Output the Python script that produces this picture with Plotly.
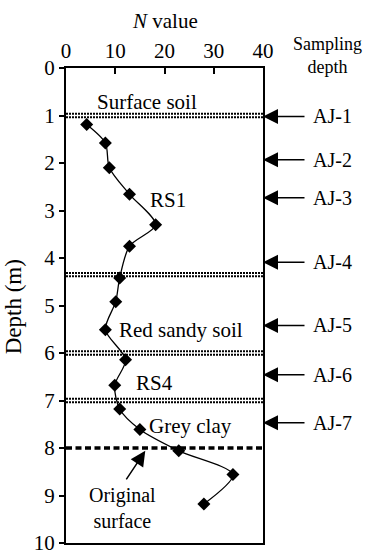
import plotly.graph_objects as go

# Data
n_value = [4.2, 8.0, 8.8, 12.9, 18.2, 12.9, 10.9, 10.1, 8.0, 12.1, 9.9, 10.9, 15.0, 22.9, 33.9, 28.0]
depth = [1.19, 1.58, 2.10, 2.66, 3.30, 3.75, 4.42, 4.92, 5.51, 6.14, 6.68, 7.18, 7.61, 8.06, 8.56, 9.18]

layer_bounds = [1.0, 4.35, 6.0, 7.0]          # dotted boundaries
original_surface = 8.0                         # bold dashed boundary

layer_names = ["Surface soil", "RS1", "Red sandy soil", "RS4", "Grey clay"]
layer_label_x = [16.5, 20.8, 23.3, 18.0, 25.3]
layer_label_y = [0.72, 2.78, 5.51, 6.63, 7.54]

sample_names = ["AJ-1", "AJ-2", "AJ-3", "AJ-4", "AJ-5", "AJ-6", "AJ-7"]
sample_depths = [1.02, 1.93, 2.73, 4.09, 5.42, 6.46, 7.47]

x_ticks = [0, 10, 20, 30, 40]
y_ticks = list(range(0, 11))

FONT = "Liberation Serif"

fig = go.Figure()
fig.add_trace(go.Scatter(
    x=n_value, y=depth, mode="lines+markers",
    line=dict(color="black", width=1.3, shape="spline", smoothing=0.8),
    marker=dict(symbol="diamond", size=10, color="black"),
    showlegend=False, cliponaxis=False, hoverinfo="skip",
))

shapes = []
for d in layer_bounds:
    for off in (-0.035, 0.035):
        shapes.append(dict(type="line", xref="x", yref="y", x0=0, x1=40,
                           y0=d + off, y1=d + off,
                           line=dict(color="black", width=2, dash="2px,1px")))
shapes.append(dict(type="line", xref="x", yref="y", x0=0, x1=40,
                   y0=original_surface, y1=original_surface,
                   line=dict(color="black", width=3.5, dash="6px,3.5px")))

def txt(size):
    return dict(family=FONT, size=size, color="black")

annotations = []
for name, lx, ly in zip(layer_names, layer_label_x, layer_label_y):
    annotations.append(dict(x=lx, y=ly, xref="x", yref="y", text=name, showarrow=False,
                            xanchor="center", font=txt(21)))

for name, d in zip(sample_names, sample_depths):
    annotations.append(dict(x=40, y=d, xref="x", yref="y", ax=43, ay=0,
                            text="", showarrow=True, arrowhead=2, arrowsize=2.0, arrowwidth=1.5,
                            arrowcolor="black", standoff=0))
    annotations.append(dict(x=1.245, y=d, xref="paper", yref="y", text=name, showarrow=False,
                            xanchor="left", font=txt(20)))

# Original surface arrow and label
annotations.append(dict(x=16.1, y=8.06, xref="x", yref="y", ax=-20, ay=30,
                        text="", showarrow=True, arrowhead=2, arrowsize=2.0, arrowwidth=1.5,
                        arrowcolor="black", standoff=0))
annotations.append(dict(x=11.55, y=9.26, xref="x", yref="y", text="Original<br>surface",
                        showarrow=False, xanchor="center", yanchor="middle", font=txt(20)))

# Axis titles
annotations.append(dict(x=0.5, y=1.099, xref="paper", yref="paper", text="<i>N</i> value",
                        showarrow=False, xanchor="center", yanchor="middle", font=txt(21)))
annotations.append(dict(x=1.325, y=1.0255, xref="paper", yref="paper", text="Sampling<br>depth",
                        showarrow=False, xanchor="center", yanchor="middle", font=txt(18)))
annotations.append(dict(x=-0.262, y=0.497, xref="paper", yref="paper", text="Depth (m)",
                        textangle=-90, showarrow=False, xanchor="center", yanchor="middle",
                        font=txt(23)))

fig.update_layout(
    width=374, height=555,
    margin=dict(l=66, r=111, t=68, b=12),
    paper_bgcolor="white", plot_bgcolor="white",
    font=txt(20),
    shapes=shapes, annotations=annotations,
    xaxis=dict(side="top", range=[0, 40], tickvals=x_ticks, ticks="inside", ticklen=6,
               tickwidth=2, tickcolor="black", showline=True, linecolor="black", linewidth=2,
               mirror=True, showgrid=False, zeroline=False, automargin=False,
               ticklabeloverflow="allow", tickfont=txt(21)),
    yaxis=dict(range=[10, 0], tickvals=y_ticks, ticks="outside", ticklen=5, tickwidth=2,
               tickcolor="black", showline=True, linecolor="black", linewidth=2, mirror=True,
               showgrid=False, zeroline=False, automargin=False,
               ticklabeloverflow="allow", tickfont=txt(21)),
)

fig.write_html("out.html", config={"displayModeBar": False},
               post_script="document.body.style.margin='0';document.body.style.padding='0';")
